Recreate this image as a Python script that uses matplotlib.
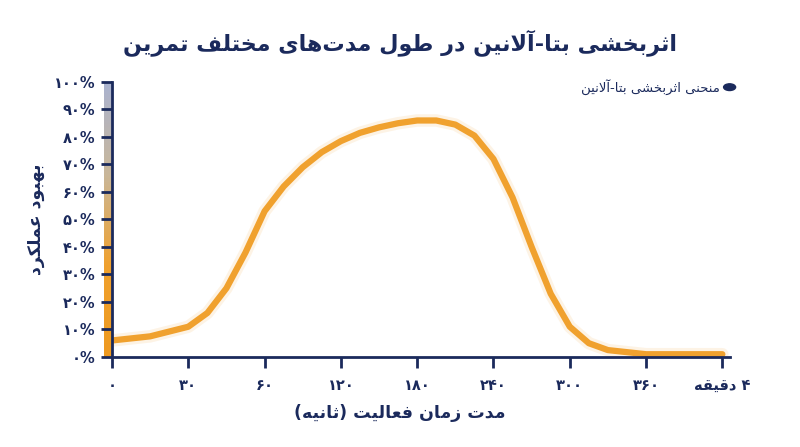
import re
import numpy as np
import matplotlib
matplotlib.use("Agg")
import matplotlib.pyplot as plt
from matplotlib.colors import LinearSegmentedColormap

# ---- data ----
title = "اثربخشی بتا-آلانین در طول مدت‌های مختلف تمرین"
legend_label = "منحنی اثربخشی بتا-آلانین"
y_label = "بهبود عملکرد"
x_label = "مدت زمان فعالیت (ثانیه)"
x_tick_labels = ["۰", "۳۰", "۶۰", "۱۲۰", "۱۸۰", "۲۴۰", "۳۰۰", "۳۶۰", "۴ دقیقه"]
y_tick_values = [0, 10, 20, 30, 40, 50, 60, 70, 80, 90, 100]
y_tick_labels = ["۰%", "۱۰%", "۲۰%", "۳۰%", "۴۰%", "۵۰%", "۶۰%", "۷۰%", "۸۰%", "۹۰%", "۱۰۰%"]
curve_x = [0, 0.5, 1, 1.25, 1.5, 1.75, 2, 2.25, 2.5, 2.75, 3, 3.25, 3.5, 3.75, 4, 4.25, 4.5, 4.75,
           5, 5.25, 5.5, 5.75, 6, 6.25, 6.5, 7, 8]
curve_y = [6, 7.5, 11, 16, 25, 38, 53, 62, 69, 74.5, 78.5, 81.5, 83.5, 85, 86, 86, 84.5, 80.5,
           72, 58, 40, 23, 11, 5, 2.5, 1, 1]

# ---- minimal Persian shaping ----
FORMS = {  # isolated, final, initial, medial
    'ا': ('\uFE8D', '\uFE8E', None, None), 'آ': ('\uFE81', '\uFE82', None, None),
    'ب': ('\uFE8F', '\uFE90', '\uFE91', '\uFE92'), 'ت': ('\uFE95', '\uFE96', '\uFE97', '\uFE98'),
    'ث': ('\uFE99', '\uFE9A', '\uFE9B', '\uFE9C'), 'ح': ('\uFEA1', '\uFEA2', '\uFEA3', '\uFEA4'),
    'خ': ('\uFEA5', '\uFEA6', '\uFEA7', '\uFEA8'),
    'د': ('\uFEA9', '\uFEAA', None, None), 'ر': ('\uFEAD', '\uFEAE', None, None),
    'ز': ('\uFEAF', '\uFEB0', None, None), 'ش': ('\uFEB5', '\uFEB6', '\uFEB7', '\uFEB8'),
    'ط': ('\uFEC1', '\uFEC2', '\uFEC3', '\uFEC4'), 'ع': ('\uFEC9', '\uFECA', '\uFECB', '\uFECC'),
    'ف': ('\uFED1', '\uFED2', '\uFED3', '\uFED4'), 'ق': ('\uFED5', '\uFED6', '\uFED7', '\uFED8'),
    'ک': ('\uFB8E', '\uFB8F', '\uFB90', '\uFB91'), 'ل': ('\uFEDD', '\uFEDE', '\uFEDF', '\uFEE0'),
    'م': ('\uFEE1', '\uFEE2', '\uFEE3', '\uFEE4'), 'ن': ('\uFEE5', '\uFEE6', '\uFEE7', '\uFEE8'),
    'ه': ('\uFEE9', '\uFEEA', '\uFEEB', '\uFEEC'), 'و': ('\uFEED', '\uFEEE', None, None),
    'ی': ('\uFBFC', '\uFBFD', '\uFBFE', '\uFBFF'),
}
LAMALEF = {'ا': ('\uFEFB', '\uFEFC'), 'آ': ('\uFEF5', '\uFEF6')}


def dual(c):
    return c in FORMS and FORMS[c][2] is not None


def shape(s):
    chars = list(s)
    out = []
    i = 0
    n = len(chars)
    while i < n:
        c = chars[i]
        if c not in FORMS:
            if c != '\u200c':
                out.append(c)
            i += 1
            continue
        prev = chars[i - 1] if i > 0 else ''
        jp = dual(prev)
        if c == 'ل' and i + 1 < n and chars[i + 1] in LAMALEF:
            out.append(LAMALEF[chars[i + 1]][1 if jp else 0])
            i += 2
            continue
        nxt = chars[i + 1] if i + 1 < n else ''
        jn = dual(c) and nxt in FORMS
        iso, fin, ini, med = FORMS[c]
        if jp and jn:
            out.append(med)
        elif jp:
            out.append(fin)
        elif jn:
            out.append(ini)
        else:
            out.append(iso)
        i += 1
    vis = ''.join(reversed(out))
    vis = vis.translate(str.maketrans('()', ')('))
    vis = re.sub('[۰-۹0-9%]+', lambda m: m.group(0)[::-1], vis)
    return vis


NAVY = '#1b2a5c'
ORANGE = '#f0a12e'
plt.rcParams['font.family'] = ['DejaVu Sans']

fig = plt.figure(figsize=(8, 4.47), dpi=100)
ax = fig.add_axes([0.14, 0.2014, 0.7725, 0.6152])

# glow + curve
ax.plot(curve_x, curve_y, color=ORANGE, lw=9, alpha=0.12, solid_capstyle='round', solid_joinstyle='round')
ax.plot(curve_x, curve_y, color=ORANGE, lw=4.5, solid_capstyle='round', solid_joinstyle='round')

# gradient strip on the y axis (top: blue-grey, bottom: orange)
cmap = LinearSegmentedColormap.from_list('g', ['#aab3d0', '#c9b79a', ORANGE, '#ee9a20'])
grad = np.linspace(0, 1, 256).reshape(-1, 1)
ax.imshow(grad, extent=[-0.11, 0, 0, 100], origin='upper', aspect='auto', cmap=cmap,
          clip_on=False, zorder=1)
ax.set_xlim(0, 8.1)
ax.set_ylim(0, 100)

for sp in ['top', 'right']:
    ax.spines[sp].set_visible(False)
for sp in ['left', 'bottom']:
    ax.spines[sp].set_color(NAVY)
    ax.spines[sp].set_linewidth(2)
    ax.spines[sp].set_zorder(5)

ax.set_xticks(range(len(x_tick_labels)))
ax.set_xticklabels([shape(t) for t in x_tick_labels])
ax.set_yticks(y_tick_values)
ax.set_yticklabels(y_tick_labels)
ax.tick_params(axis='both', colors=NAVY, width=2, length=8, labelsize=10.5, pad=4)
ax.tick_params(axis='x', pad=7)
for t in ax.get_xticklabels() + ax.get_yticklabels():
    t.set_fontweight('bold')

fig.text(0.5, 0.905, shape(title), ha='center', va='center', fontsize=16, fontweight='bold', color=NAVY)
fig.text(0.5, 0.075, shape(x_label), ha='center', va='center', fontsize=12.5, fontweight='bold', color=NAVY)
fig.text(0.045, 0.51, shape(y_label), ha='center', va='center', rotation=90, fontsize=12.5, fontweight='bold', color=NAVY)

# legend
fig.patches.append(plt.Circle((0.912, 0.805), 0.0075, transform=fig.transFigure, color=NAVY))
fig.text(0.9, 0.805, shape(legend_label), ha='right', va='center', fontsize=9.5, color=NAVY)

fig.savefig('out.png', dpi=100, facecolor='white')
